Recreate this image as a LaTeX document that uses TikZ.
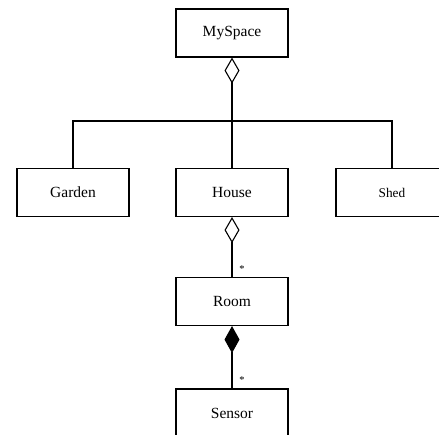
\documentclass[tikz,border=0pt]{standalone}
\usepackage{fontspec}
\setmainfont{Liberation Serif}
\usetikzlibrary{arrows.meta}
\begin{document}
\begin{tikzpicture}[x=1pt,y=-1pt,
  cls/.style={draw,line width=1.1pt,minimum width=112pt,minimum height=48pt,inner sep=0pt,font=\fontsize{15.5}{18}\selectfont},
  conn/.style={line width=1.1pt,line join=miter},
  agg/.style={{Diamond[open,length=26pt,width=15pt]}-},
  comp/.style={{Diamond[length=27pt,width=15pt]}-},
  mult/.style={font=\fontsize{10.5}{12}\selectfont,inner sep=0pt}]
\useasboundingbox (0,0) rectangle (439,434);
\node[cls] (myspace) at (232,33) {MySpace};
\node[cls] (garden) at (73,192.5) {Garden};
\node[cls] (house) at (232,192.5) {House};
\node[cls,font=\fontsize{13.3}{16}\selectfont] (shed) at (392,192.5) {Shed};
\node[cls] (room) at (232,301.5) {Room};
\node[cls] (sensor) at (232,413) {Sensor};
\coordinate (bar) at (232,121);
\draw[conn,agg] (myspace.south) -- (bar);
\draw[conn] (garden.north) |- (bar) -| (shed.north);
\draw[conn] (house.north) -- (bar);
\draw[conn,agg] (house.south) -- (room.north);
\draw[conn,comp] (room.south) -- (sensor.north);
\node[mult] (m1) at (242,269) {*};
\node[mult] (m2) at (242,380) {*};
\end{tikzpicture}
\end{document}
